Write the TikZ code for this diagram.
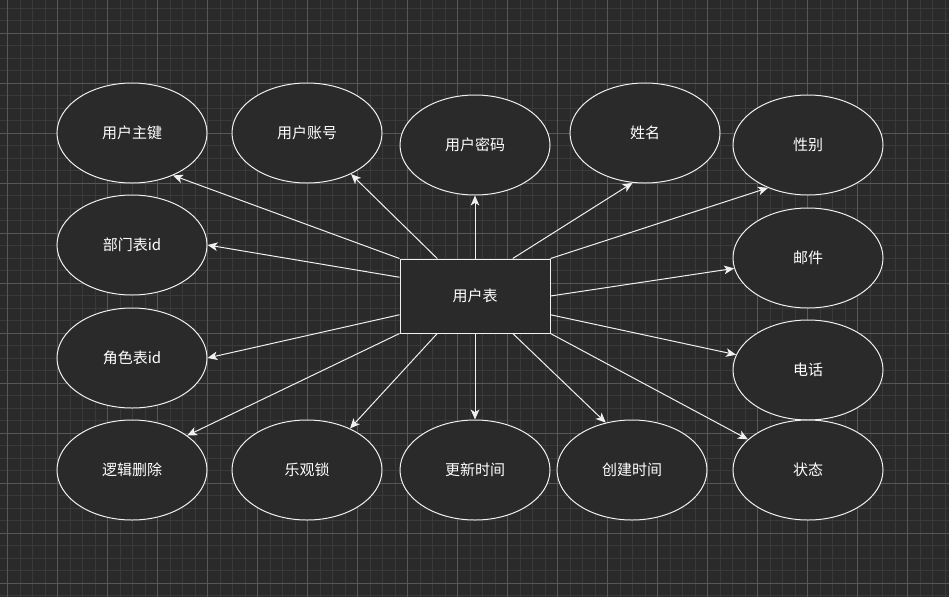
\documentclass[tikz,border=0pt]{standalone}
\usepackage{fontspec}
\newfontfamily\cjk{Noto Sans CJK SC}
\usetikzlibrary{shapes.geometric,arrows.meta,calc}
\definecolor{bgc}{HTML}{2A2A2A}
\definecolor{minorc}{HTML}{3A3A3A}
\definecolor{majorc}{HTML}{575757}
\definecolor{strokec}{HTML}{F0F0F0}
\tikzset{
  minorgrid/.style={draw=minorc,line width=0.75pt},
  majorgrid/.style={draw=majorc,line width=0.75pt},
  attr/.style={ellipse,draw=strokec,fill=bgc,line width=0.75pt,minimum width=112.5pt,minimum height=75pt,inner sep=0pt,text=white,font=\cjk\fontsize{11.25}{13}\selectfont},
  entity/.style={rectangle,draw=strokec,fill=bgc,line width=0.75pt,minimum width=112.5pt,minimum height=55.5pt,inner sep=0pt,text=white,font=\cjk\fontsize{11.25}{13}\selectfont},
  link/.style={draw=strokec,line width=0.75pt,-{Stealth[length=7.5pt,width=6.5pt,inset=2pt]}}
}
\begin{document}
\begin{tikzpicture}[x=0.75pt,y=-0.75pt]
\useasboundingbox (0,0) rectangle (949,597);
\fill[bgc] (0,0) rectangle (949,597);
\begin{scope}
\clip (0,0) rectangle (949,597);
\foreach \i in {-1,...,76} { \draw[minorgrid] ({7.7+12.5*\i},0) -- ({7.7+12.5*\i},597); }
\foreach \j in {-1,...,48} { \draw[minorgrid] (0,{8.3+12.5*\j}) -- (949,{8.3+12.5*\j}); }
\foreach \i in {0,...,19} { \draw[majorgrid] ({7.7+50*\i},0) -- ({7.7+50*\i},597); }
\foreach \j in {-1,...,12} { \draw[majorgrid] (0,{33.3+50*\j}) -- (949,{33.3+50*\j}); }
\end{scope}

\node[entity] (u) at (475,296) {用户表};

\node[attr] (e1) at (132,133) {用户主键};
\node[attr] (e2) at (307,133) {用户账号};
\node[attr] (e3) at (475,145) {用户密码};
\node[attr] (e4) at (645,133) {姓名};
\node[attr] (e5) at (808,145) {性别};
\node[attr] (e6) at (132,245) {部门表id};
\node[attr] (e7) at (808,258) {邮件};
\node[attr] (e8) at (132,358) {角色表id};
\node[attr] (e9) at (808,370) {电话};
\node[attr] (e10) at (132,470) {逻辑删除};
\node[attr] (e11) at (307,470) {乐观锁};
\node[attr] (e12) at (475,470) {更新时间};
\node[attr] (e13) at (632,470) {创建时间};
\node[attr] (e14) at (808,470) {状态};

\draw[link] (u.north west) -- (e1.-46);
\draw[link] ($(u.north west)!0.25!(u.north east)$) -- (e2.-43);
\draw[link] (u.north) -- (e3.-90);
\draw[link] ($(u.north west)!0.75!(u.north east)$) -- (e4.-104.6);
\draw[link] (u.north east) -- (e5.-133);
\draw[link] ($(u.north west)!0.25!(u.south west)$) -- (e6.0);
\draw[link] (u.east) -- (e7.-172);
\draw[link] ($(u.north west)!0.75!(u.south west)$) -- (e8.0);
\draw[link] ($(u.north east)!0.75!(u.south east)$) -- (e9.168);
\draw[link] (u.south west) -- (e10.32.5);
\draw[link] ($(u.south west)!0.25!(u.south east)$) -- (e11.44);
\draw[link] (u.south) -- (e12.90);
\draw[link] ($(u.south west)!0.75!(u.south east)$) -- (e13.119.7);
\draw[link] (u.south east) -- (e14.153.8);
\end{tikzpicture}
\end{document}
